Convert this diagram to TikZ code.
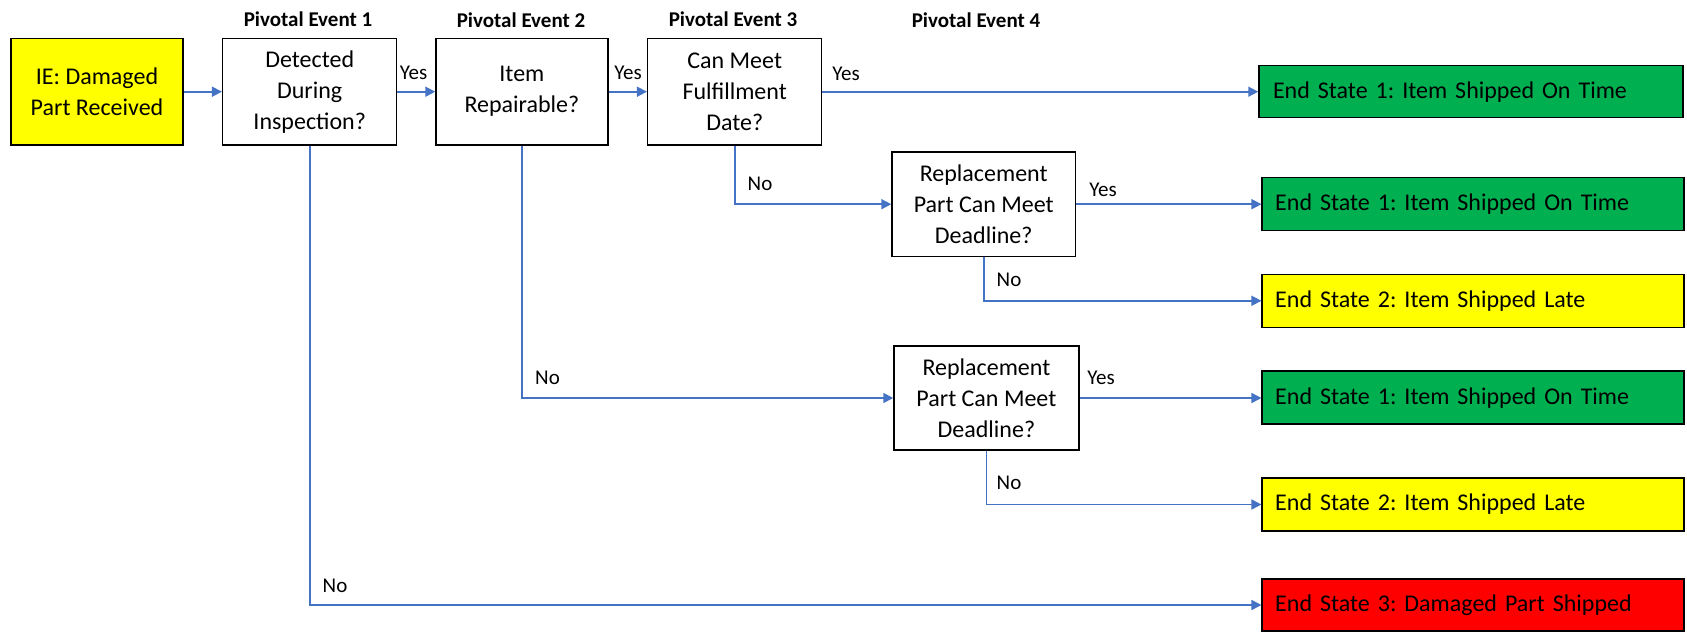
\documentclass[tikz,border=0pt]{standalone}
\usepackage{fontspec}
\setmainfont{Carlito}
\usetikzlibrary{arrows.meta}
\frenchspacing
\definecolor{conblue}{HTML}{4472C4}
\definecolor{esgreen}{HTML}{00B050}
\definecolor{esyellow}{HTML}{FFFF00}
\definecolor{esred}{HTML}{FF0000}
\tikzset{
  boxbase/.style={draw=black, line width=1.5pt, inner sep=2pt, align=center,
    font=\fontsize{24}{31}\selectfont},
  iebox/.style={boxbase, fill=esyellow, minimum width=172pt, minimum height=106.7pt},
  pebox/.style={boxbase, fill=white, minimum height=106.7pt},
  esbox/.style={draw=black, line width=1.5pt, minimum height=53pt, inner xsep=13pt,
    text width=396pt, align=left, font=\fontsize{24}{29}\selectfont},
  conn/.style={draw=conblue, line width=1.6pt, -{Triangle[length=10pt,width=10pt]}},
  lbl/.style={inner sep=0pt, font=\fontsize{21}{25}\selectfont},
  hdr/.style={inner sep=0pt, font=\bfseries\fontsize{21}{25}\selectfont}
}
\begin{document}
\begin{tikzpicture}[x=1pt,y=-1pt]
\useasboundingbox (0,0) rectangle (1687,632);
% headers
\node[hdr] (h1) at (308,19) {Pivotal Event 1};
\node[hdr] (h2) at (521,20) {Pivotal Event 2};
\node[hdr] (h3) at (733,19) {Pivotal Event 3};
\node[hdr] (h4) at (976,20) {Pivotal Event 4};
% decision boxes
\node[iebox] (ie) at (97,91.7) {IE: Damaged\\Part Received};
\node[pebox, minimum width=174pt] (pe1) at (309.7,91.7) {Detected\\During\\Inspection?};
\node[pebox, minimum width=171.7pt] (pe2) at (521.9,91.7) {Item\\Repairable?};
\node[pebox, minimum width=174pt] (pe3) at (734.7,91.7) {Can Meet\\Fulfillment\\Date?};
\node[pebox, minimum width=183.3pt, minimum height=104.3pt] (pe4a) at (983.7,204.2) {Replacement\\Part Can Meet\\Deadline?};
\node[pebox, minimum width=184.8pt, minimum height=104.3pt] (pe4b) at (986.4,398) {Replacement\\Part Can Meet\\Deadline?};
% end states
\node[esbox, fill=esgreen, minimum width=424pt, minimum height=52pt] (es1a) at (1471,91.7) {End State 1: Item Shipped On Time};
\node[esbox, fill=esgreen, minimum width=421.7pt] (es1b) at (1473.2,204.2) {End State 1: Item Shipped On Time};
\node[esbox, fill=esyellow, minimum width=421.7pt] (es2a) at (1473.2,300.8) {End State 2: Item Shipped Late};
\node[esbox, fill=esgreen, minimum width=421.7pt] (es1c) at (1473.2,397.7) {End State 1: Item Shipped On Time};
\node[esbox, fill=esyellow, minimum width=421.7pt] (es2b) at (1473.2,504.5) {End State 2: Item Shipped Late};
\node[esbox, fill=esred, minimum width=421.7pt, minimum height=52pt] (es3) at (1473.2,605) {End State 3: Damaged Part Shipped};
% connectors
\draw[conn] (ie) -- (pe1);
\draw[conn] (pe1) -- (pe2);
\draw[conn] (pe2) -- (pe3);
\draw[conn] (pe3) -- (es1a);
\draw[conn] (pe3.south) |- (pe4a.west);
\draw[conn] (pe4a.east) -- (pe4a.east -| es1b.west);
\draw[conn] (pe4a.south) |- (es2a.west);
\draw[conn] (pe2.south) |- (pe4b.west);
\draw[conn] (pe4b.east) -- (pe4b.east -| es1c.west);
\draw[conn] (pe4b.south) |- (es2b.west);
\draw[conn] (pe1.south) |- (es3.west);
% labels
\node[lbl] (y1) at (413.5,73) {Yes};
\node[lbl] (y2) at (628,73) {Yes};
\node[lbl] (y3) at (846,74) {Yes};
\node[lbl] (n3) at (760,184) {No};
\node[lbl] (y4a) at (1103,190) {Yes};
\node[lbl] (n4a) at (1009,280) {No};
\node[lbl] (n2) at (547.5,378) {No};
\node[lbl] (y4b) at (1101,378) {Yes};
\node[lbl] (n4b) at (1009,483) {No};
\node[lbl] (n1) at (335,586) {No};
\end{tikzpicture}
\end{document}
